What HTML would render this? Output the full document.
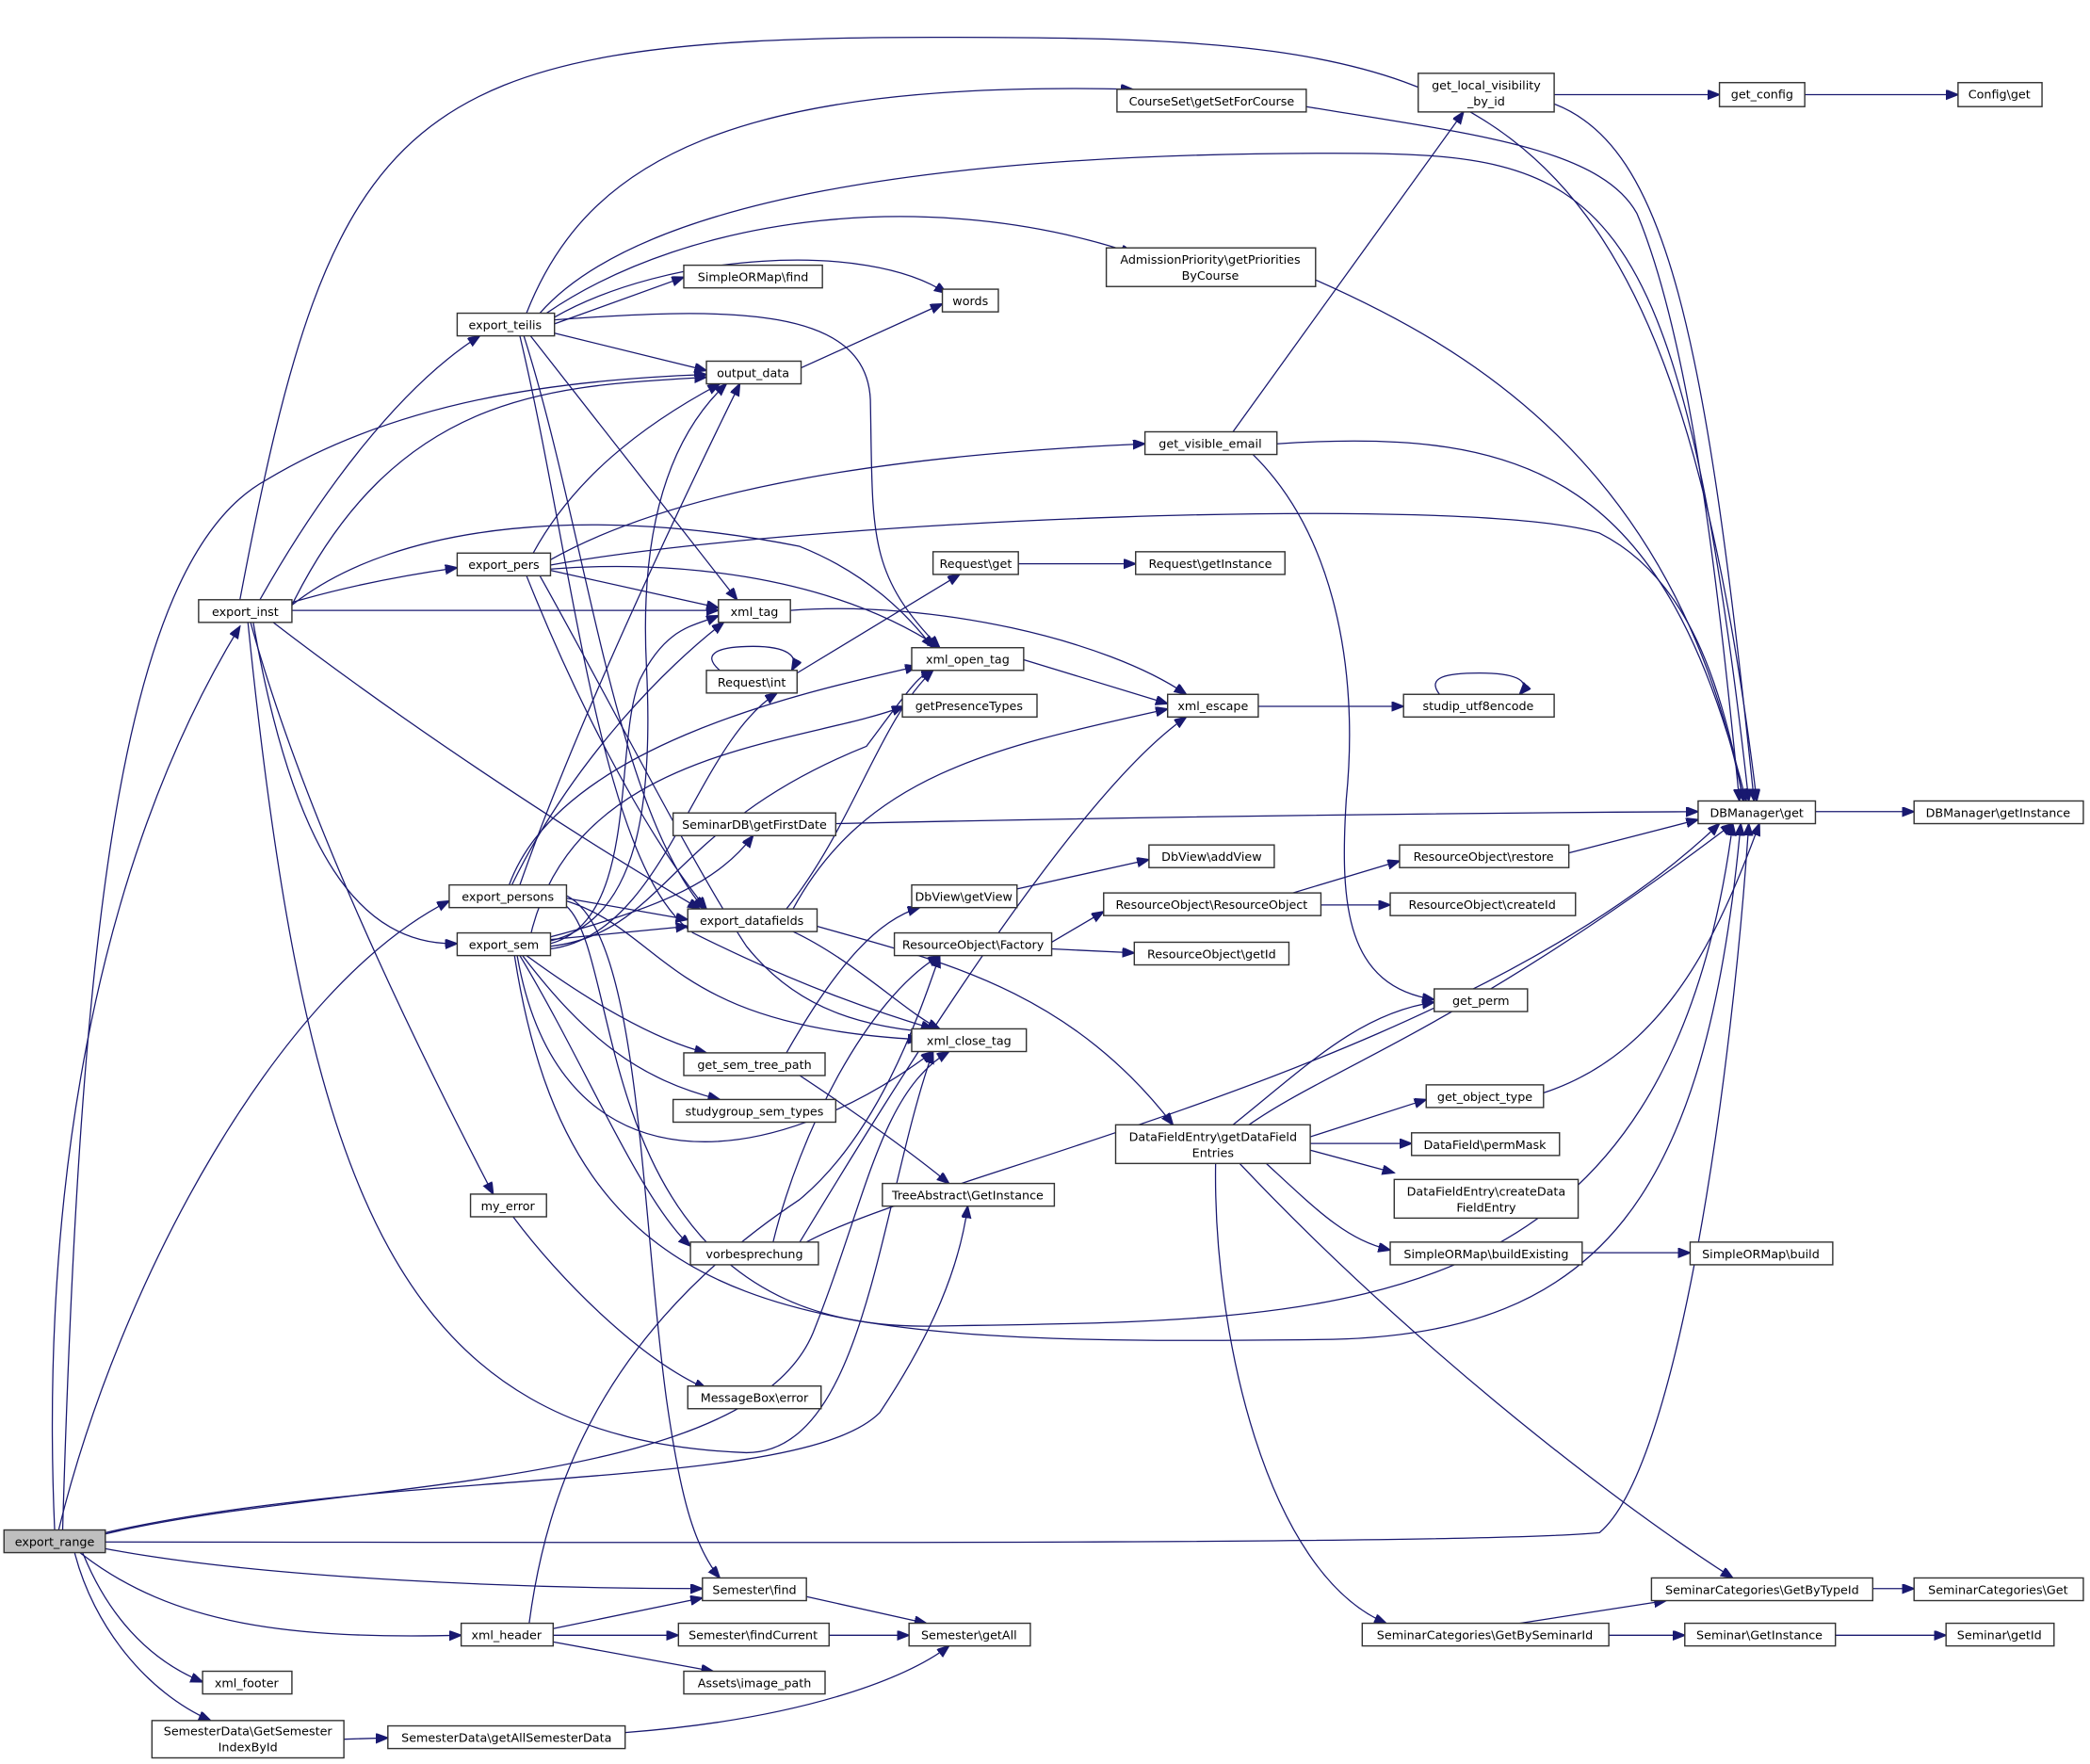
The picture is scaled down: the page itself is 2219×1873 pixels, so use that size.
<!DOCTYPE html>
<html><head><meta charset="utf-8"><style>
html,body{margin:0;padding:0;background:#fff;}
svg{display:block;}
text{font-family:"DejaVu Sans","Liberation Sans",sans-serif;font-size:9px;fill:#000;text-anchor:middle;}
.n{fill:#fff;stroke:#333;stroke-width:1;}
.g{fill:#bfbfbf;stroke:#333;stroke-width:1;}
.e{fill:none;stroke:#191970;stroke-width:0.9;marker-end:url(#a);}
</style></head><body>
<svg width="2219" height="1873" viewBox="0 0 1568 1323.6" preserveAspectRatio="none">
<defs><marker id="a" markerUnits="userSpaceOnUse" markerWidth="10" markerHeight="8" refX="9" refY="3.5" orient="auto"><path d="M0,0 L9,3.5 L0,7 z" fill="#191970" stroke="#191970"/></marker></defs>

<!-- edges -->
<g>
<!-- export_range -->
<path class="e" d="M41,1148 C30,900 70,650 180,470"/>
<path class="e" d="M44,1148 C90,960 210,740 337,676"/>
<path class="e" d="M47,1148 C60,700 90,420 200,360 C300,300 420,285 530,281"/>
<path class="e" d="M79,1151 C250,1110 560,1120 610,1000 C650,900 660,820 712,789"/>
<path class="e" d="M79,1157 C400,1157 1100,1160 1200,1150 C1260,1100 1300,800 1312,618"/>
<path class="e" d="M79,1162 C200,1185 400,1192 527,1192"/>
<path class="e" d="M60,1165 C130,1220 220,1230 346,1227"/>
<path class="e" d="M62,1165 C80,1210 110,1245 152,1262"/>
<path class="e" d="M56,1165 C70,1220 110,1270 158,1291"/>
<path class="e" d="M79,1150 C300,1100 600,1120 660,1060 C700,1000 720,950 726,905"/>
<!-- export_inst -->
<path class="e" d="M180,450 C250,80 300,28 700,28 C1100,28 1250,40 1318,601"/>
<path class="e" d="M219,454 C300,290 420,290 530,283"/>
<path class="e" d="M195,450 C240,370 300,290 360,252"/>
<path class="e" d="M219,452 C260,440 300,432 343,426"/>
<path class="e" d="M219,458 L539,458"/>
<path class="e" d="M219,454 C300,390 450,380 600,410 C650,430 680,460 700,486"/>
<path class="e" d="M205,467 C300,540 420,620 525,682"/>
<path class="e" d="M190,467 C220,640 270,710 343,708"/>
<path class="e" d="M188,467 C230,620 320,800 370,896"/>
<path class="e" d="M186,467 C230,900 300,1080 560,1090 C650,1090 660,900 700,789"/>
<!-- export_teilis -->
<path class="e" d="M395,235 C440,120 550,60 850,67"/>
<path class="e" d="M405,235 C480,150 700,115 1000,115 C1200,115 1260,130 1312,601"/>
<path class="e" d="M410,235 C520,160 700,140 850,190"/>
<path class="e" d="M416,238 C500,190 650,180 710,220"/>
<path class="e" d="M416,243 L513,208"/>
<path class="e" d="M416,250 L530,278"/>
<path class="e" d="M416,240 C550,230 650,230 653,300 C655,400 650,430 705,486"/>
<path class="e" d="M398,252 L553,450"/>
<path class="e" d="M393,252 C440,400 460,600 528,682"/>
<path class="e" d="M390,252 C430,420 450,650 520,700 C600,740 660,760 700,772"/>
<!-- export_pers -->
<path class="e" d="M400,415 C430,360 480,320 540,288"/>
<path class="e" d="M413,420 C520,360 700,340 859,333"/>
<path class="e" d="M413,424 C600,390 1100,370 1200,400 C1260,430 1290,500 1308,601"/>
<path class="e" d="M413,428 L539,456"/>
<path class="e" d="M413,427 C500,420 620,430 705,486"/>
<path class="e" d="M395,432 C430,520 480,620 530,682"/>
<path class="e" d="M405,432 C460,530 520,650 560,710 C600,760 650,770 700,775"/>
<!-- export_persons -->
<path class="e" d="M382,664 C420,560 600,520 688,500"/>
<path class="e" d="M390,664 C430,550 500,400 555,288"/>
<path class="e" d="M384,664 C430,570 500,500 543,467"/>
<path class="e" d="M425,674 L516,690"/>
<path class="e" d="M425,676 C500,700 500,770 690,780"/>
<path class="e" d="M425,672 C480,700 480,900 500,1050 C510,1120 520,1160 540,1184"/>
<path class="e" d="M425,680 C470,720 440,1000 700,995 C1000,990 1250,1000 1300,618"/>
<!-- export_sem -->
<path class="e" d="M413,706 C480,690 490,600 485,500 C480,400 500,330 545,288"/>
<path class="e" d="M413,708 C480,690 460,560 480,510 C500,470 520,470 539,462"/>
<path class="e" d="M413,710 C500,700 500,620 650,560 C680,520 690,505 700,503"/>
<path class="e" d="M413,712 C500,700 520,560 583,520"/>
<path class="e" d="M413,703 C500,680 540,660 565,627"/>
<path class="e" d="M413,705 L516,695"/>
<path class="e" d="M395,717 C440,750 490,780 530,790"/>
<path class="e" d="M392,717 C440,780 480,810 540,825"/>
<path class="e" d="M390,717 C440,800 480,900 518,935"/>
<path class="e" d="M388,717 C420,900 580,880 700,789"/>
<path class="e" d="M386,717 C430,1000 600,1010 1000,1005 C1200,1000 1280,900 1306,618"/>
<path class="e" d="M395,717 C420,560 600,560 678,530"/>
<!-- export_datafields -->
<path class="e" d="M590,682 C640,620 660,540 700,503"/>
<path class="e" d="M595,682 C650,580 750,560 876,532"/>
<path class="e" d="M595,699 C640,720 680,760 705,772"/>
<path class="e" d="M613,695 C700,720 800,740 880,844"/>
<!-- misc -->
<path class="e" d="M601,276 L707,228"/>
<path class="e" d="M593,458 C700,450 830,480 890,521"/>
<path class="e" d="M768,495 L876,528"/>
<path class="e" d="M598,505 L720,431"/>
<path class="e" d="M540,503 C525,490 540,485 565,485 C590,485 600,492 594,503"/>
<path class="e" d="M764,423 L852,423"/>
<path class="e" d="M944,530 L1053,530"/>
<path class="e" d="M1080,521 C1070,508 1085,505 1110,505 C1135,505 1150,510 1140,521"/>
<path class="e" d="M627,618 C900,612 1100,610 1274,609"/>
<path class="e" d="M763,667 L862,645"/>
<path class="e" d="M789,707 L828,684"/>
<path class="e" d="M789,712 L851,715"/>
<path class="e" d="M960,673 L1050,646"/>
<path class="e" d="M991,679 L1043,679"/>
<path class="e" d="M1177,640 L1274,615"/>
<path class="e" d="M590,790 C630,720 660,690 690,681"/>
<path class="e" d="M600,807 C650,840 690,870 712,888"/>
<path class="e" d="M580,932 C600,850 650,750 705,717"/>
<path class="e" d="M600,932 C650,850 800,600 890,538"/>
<path class="e" d="M605,932 C700,880 1100,800 1290,618"/>
<path class="e" d="M385,913 C420,960 480,1020 530,1042"/>
<path class="e" d="M397,1218 C410,1120 450,1000 600,900 C660,850 690,760 705,717"/>
<path class="e" d="M415,1222 L527,1199"/>
<path class="e" d="M415,1227 L509,1227"/>
<path class="e" d="M415,1232 L535,1254"/>
<path class="e" d="M605,1198 L695,1218"/>
<path class="e" d="M622,1227 L682,1227"/>
<path class="e" d="M258,1305 L291,1304"/>
<path class="e" d="M469,1300 C600,1290 680,1260 712,1235"/>
<path class="e" d="M980,80 C1100,100 1200,110 1228,160 C1270,260 1290,450 1305,601"/>
<path class="e" d="M987,210 C1100,260 1260,350 1308,601"/>
<path class="e" d="M925,324 L1098,84"/>
<path class="e" d="M958,333 C1150,320 1250,360 1310,601"/>
<path class="e" d="M940,341 C1000,400 1020,500 1010,600 C1005,680 1010,740 1076,750"/>
<path class="e" d="M1166,71 L1290,71"/>
<path class="e" d="M1166,78 C1250,110 1280,250 1316,601"/>
<path class="e" d="M1354,71 L1469,71"/>
<path class="e" d="M1362,609 L1436,609"/>
<path class="e" d="M925,844 C980,800 1020,760 1076,752"/>
<path class="e" d="M937,844 C1000,800 1100,770 1300,618"/>
<path class="e" d="M983,853 L1070,825"/>
<path class="e" d="M983,858 L1059,858"/>
<path class="e" d="M983,863 L1046,880"/>
<path class="e" d="M950,873 C990,910 1010,930 1043,938"/>
<path class="e" d="M930,873 C1050,1000 1200,1120 1300,1184"/>
<path class="e" d="M912,873 C910,1000 950,1180 1040,1218"/>
<path class="e" d="M1158,820 C1250,790 1290,700 1320,618"/>
<path class="e" d="M1187,940 L1268,940"/>
<path class="e" d="M1140,1218 L1250,1201"/>
<path class="e" d="M1207,1227 L1264,1227"/>
<path class="e" d="M1377,1227 L1460,1227"/>
<path class="e" d="M1405,1192 L1436,1192"/>
</g>

<!-- nodes -->
<rect class="g" x="3" y="1148" width="76" height="17"/><text x="41" y="1160">export_range</text>
<rect class="n" x="149" y="450" width="70" height="17"/><text x="184" y="462">export_inst</text>
<rect class="n" x="343" y="235" width="73" height="17"/><text x="379" y="247">export_teilis</text>
<rect class="n" x="343" y="415" width="70" height="17"/><text x="378" y="427">export_pers</text>
<rect class="n" x="337" y="664" width="88" height="17"/><text x="381" y="676">export_persons</text>
<rect class="n" x="343" y="700" width="70" height="17"/><text x="378" y="712">export_sem</text>
<rect class="n" x="353" y="896" width="57" height="17"/><text x="381" y="908">my_error</text>
<rect class="n" x="530" y="271" width="71" height="17"/><text x="565" y="283">output_data</text>
<rect class="n" x="513" y="199" width="104" height="17"/><text x="565" y="211">SimpleORMap\find</text>
<rect class="n" x="707" y="217" width="42" height="17"/><text x="728" y="229">words</text>
<rect class="n" x="539" y="450" width="54" height="17"/><text x="566" y="462">xml_tag</text>
<rect class="n" x="530" y="503" width="68" height="17"/><text x="564" y="515">Request\int</text>
<rect class="n" x="684" y="486" width="84" height="17"/><text x="726" y="498">xml_open_tag</text>
<rect class="n" x="677" y="521" width="101" height="17"/><text x="727" y="533">getPresenceTypes</text>
<rect class="n" x="505" y="610" width="122" height="17"/><text x="566" y="622">SeminarDB\getFirstDate</text>
<rect class="n" x="516" y="682" width="97" height="17"/><text x="564" y="694">export_datafields</text>
<rect class="n" x="684" y="664" width="79" height="17"/><text x="723" y="676">DbView\getView</text>
<rect class="n" x="671" y="700" width="118" height="17"/><text x="730" y="712">ResourceObject\Factory</text>
<rect class="n" x="684" y="772" width="86" height="17"/><text x="727" y="784">xml_close_tag</text>
<rect class="n" x="513" y="790" width="106" height="17"/><text x="566" y="802">get_sem_tree_path</text>
<rect class="n" x="505" y="825" width="122" height="17"/><text x="566" y="837">studygroup_sem_types</text>
<rect class="n" x="662" y="888" width="129" height="17"/><text x="726" y="900">TreeAbstract\GetInstance</text>
<rect class="n" x="518" y="932" width="96" height="17"/><text x="566" y="944">vorbesprechung</text>
<rect class="n" x="516" y="1040" width="100" height="17"/><text x="566" y="1052">MessageBox\error</text>
<rect class="n" x="527" y="1184" width="78" height="17"/><text x="566" y="1196">Semester\find</text>
<rect class="n" x="509" y="1218" width="113" height="17"/><text x="565" y="1230">Semester\findCurrent</text>
<rect class="n" x="682" y="1218" width="91" height="17"/><text x="727" y="1230">Semester\getAll</text>
<rect class="n" x="513" y="1254" width="106" height="17"/><text x="566" y="1266">Assets\image_path</text>
<rect class="n" x="346" y="1218" width="69" height="17"/><text x="380" y="1230">xml_header</text>
<rect class="n" x="152" y="1254" width="67" height="17"/><text x="185" y="1266">xml_footer</text>
<rect class="n" x="114" y="1291" width="144" height="28"/><text x="186" y="1302">SemesterData\GetSemester</text><text x="186" y="1314">IndexById</text>
<rect class="n" x="291" y="1295" width="178" height="17"/><text x="380" y="1307">SemesterData\getAllSemesterData</text>
<rect class="n" x="838" y="67" width="142" height="17"/><text x="909" y="79">CourseSet\getSetForCourse</text>
<rect class="n" x="830" y="186" width="157" height="29"/><text x="908" y="198">AdmissionPriority\getPriorities</text><text x="908" y="210">ByCourse</text>
<rect class="n" x="859" y="324" width="99" height="17"/><text x="908" y="336">get_visible_email</text>
<rect class="n" x="700" y="414" width="64" height="17"/><text x="732" y="426">Request\get</text>
<rect class="n" x="852" y="414" width="112" height="17"/><text x="908" y="426">Request\getInstance</text>
<rect class="n" x="876" y="521" width="68" height="17"/><text x="910" y="533">xml_escape</text>
<rect class="n" x="1053" y="521" width="113" height="17"/><text x="1109" y="533">studip_utf8encode</text>
<rect class="n" x="1064" y="55" width="102" height="29"/><text x="1115" y="67">get_local_visibility</text><text x="1115" y="79">_by_id</text>
<rect class="n" x="1290" y="62" width="64" height="18"/><text x="1322" y="74">get_config</text>
<rect class="n" x="1469" y="62" width="63" height="18"/><text x="1500" y="74">Config\get</text>
<rect class="n" x="1274" y="601" width="88" height="17"/><text x="1318" y="613">DBManager\get</text>
<rect class="n" x="1436" y="601" width="127" height="17"/><text x="1499" y="613">DBManager\getInstance</text>
<rect class="n" x="1050" y="634" width="127" height="17"/><text x="1113" y="646">ResourceObject\restore</text>
<rect class="n" x="828" y="670" width="163" height="17"/><text x="909" y="682">ResourceObject\ResourceObject</text>
<rect class="n" x="1043" y="670" width="139" height="17"/><text x="1112" y="682">ResourceObject\createId</text>
<rect class="n" x="851" y="707" width="116" height="17"/><text x="909" y="719">ResourceObject\getId</text>
<rect class="n" x="862" y="634" width="94" height="17"/><text x="909" y="646">DbView\addView</text>
<rect class="n" x="1076" y="742" width="70" height="17"/><text x="1111" y="754">get_perm</text>
<rect class="n" x="837" y="844" width="146" height="29"/><text x="910" y="856">DataFieldEntry\getDataField</text><text x="910" y="868">Entries</text>
<rect class="n" x="1070" y="814" width="88" height="17"/><text x="1114" y="826">get_object_type</text>
<rect class="n" x="1059" y="850" width="111" height="17"/><text x="1114" y="862">DataField\permMask</text>
<rect class="n" x="1046" y="885" width="138" height="29"/><text x="1115" y="897">DataFieldEntry\createData</text><text x="1115" y="909">FieldEntry</text>
<rect class="n" x="1043" y="932" width="144" height="17"/><text x="1115" y="944">SimpleORMap\buildExisting</text>
<rect class="n" x="1268" y="932" width="107" height="17"/><text x="1321" y="944">SimpleORMap\build</text>
<rect class="n" x="1239" y="1184" width="166" height="17"/><text x="1322" y="1196">SeminarCategories\GetByTypeId</text>
<rect class="n" x="1436" y="1184" width="127" height="17"/><text x="1499" y="1196">SeminarCategories\Get</text>
<rect class="n" x="1022" y="1218" width="185" height="17"/><text x="1114" y="1230">SeminarCategories\GetBySeminarId</text>
<rect class="n" x="1264" y="1218" width="113" height="17"/><text x="1320" y="1230">Seminar\GetInstance</text>
<rect class="n" x="1460" y="1218" width="81" height="17"/><text x="1500" y="1230">Seminar\getId</text>
</svg>
</body></html>
